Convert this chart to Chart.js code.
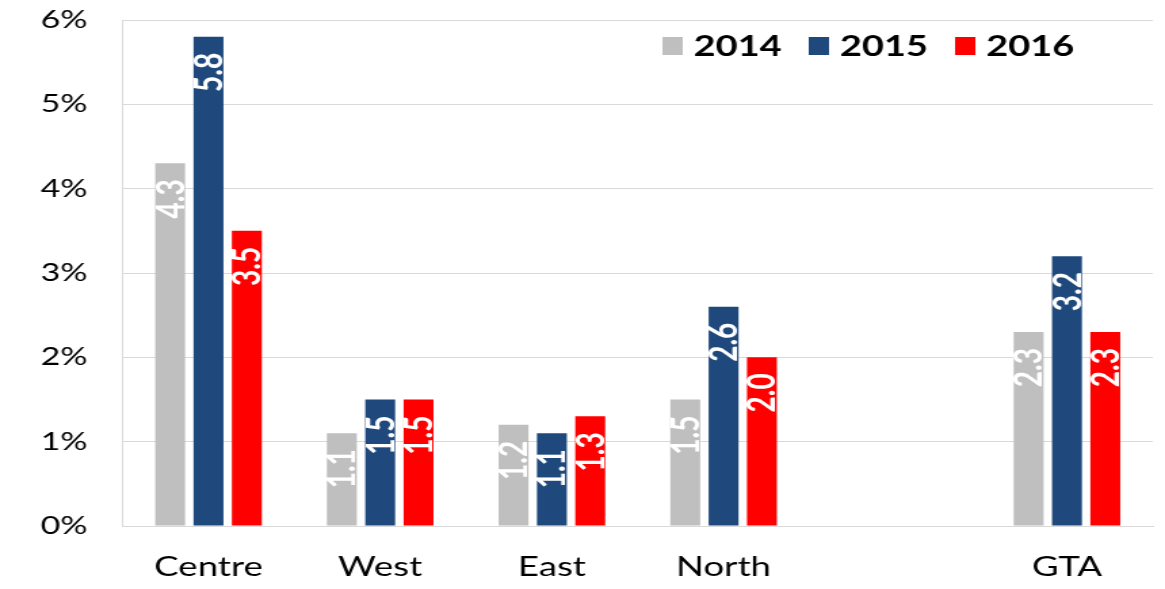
<!DOCTYPE html>
<html>
<head>
<meta charset="utf-8">
<script src="https://cdn.jsdelivr.net/npm/chart.js@4"></script>
<style>
  body { margin: 0; background: #fff; }
</style>
</head>
<body>
<!-- drawn at 860 wide, then widened by css -->
<canvas id="myChart" width="860" height="589" style="width:1165px;height:589px;display:block"></canvas>
<script>
var regions = ['Centre', 'West', 'East', 'North', '', 'GTA']
var years = ['2014', '2015', '2016']
var values2014 = [4.3, 1.1, 1.2, 1.5, null, 2.3]
var values2015 = [5.8, 1.5, 1.1, 2.6, null, 3.2]
var values2016 = [3.5, 1.5, 1.3, 2.0, null, 2.3]
var yTicks = [0, 1, 2, 3, 4, 5, 6]
var colors = ['#bfbfbf', '#1f497d', '#ff0000']

var fontName = 'Lato'

// white value text, turned on its side, near the top of each bar
var barValues = {
  id: 'barValues',
  afterDatasetsDraw: function (chart) {
    var ctx = chart.ctx
    ctx.save()
    ctx.fillStyle = '#fff'
    ctx.font = 'bold 28px ' + fontName
    ctx.textAlign = 'right'
    ctx.textBaseline = 'middle'
    chart.data.datasets.forEach(function (ds, i) {
      chart.getDatasetMeta(i).data.forEach(function (bar, j) {
        var v = ds.data[j]
        if (v == null) return
        ctx.save()
        ctx.translate(bar.x, bar.y)
        ctx.rotate(-Math.PI / 2)
        ctx.fillText(v.toFixed(1), -16, 1)
        ctx.restore()
      })
    })
    ctx.restore()
  }
}

// legend sits inside the plot, top right
var cornerLegend = {
  id: 'cornerLegend',
  afterDraw: function (chart) {
    var ctx = chart.ctx
    var area = chart.chartArea
    ctx.save()
    ctx.font = 'bold 28px ' + fontName
    ctx.textBaseline = 'middle'
    var x = area.right - 362
    var y = area.top + 26
    chart.data.datasets.forEach(function (ds) {
      ctx.fillStyle = ds.backgroundColor
      ctx.fillRect(x, y - 9, 15, 18)
      ctx.fillStyle = '#000'
      ctx.fillText(ds.label, x + 23, y + 1)
      x += 108
    })
    ctx.restore()
  }
}

var ctx = document.getElementById('myChart').getContext('2d')

var chart = new Chart(ctx, {
  type: 'bar',
  data: {
    labels: regions,
    datasets: [
      { label: years[0], data: values2014, backgroundColor: colors[0] },
      { label: years[1], data: values2015, backgroundColor: colors[1] },
      { label: years[2], data: values2016, backgroundColor: colors[2] }
    ]
  },
  options: {
    responsive: false,
    animation: false,
    devicePixelRatio: 1,
    categoryPercentage: 0.67,
    barPercentage: 0.78,
    layout: { padding: { top: 20, right: 9, left: 4, bottom: 5 } },
    plugins: {
      legend: { display: false },
      tooltip: { enabled: false }
    },
    scales: {
      x: {
        afterFit: function (axis) {
          axis.height = 58
        },
        grid: { display: false, drawTicks: false },
        border: { color: '#d9d9d9', width: 1 },
        ticks: { color: '#000', font: { family: fontName, size: 27 }, padding: 25 }
      },
      y: {
        min: 0,
        max: 6,
        afterBuildTicks: function (axis) {
          axis.ticks = yTicks.map(function (v) { return { value: v } })
        },
        // tick padding would otherwise push the plot in from top and bottom
        afterFit: function (axis) {
          axis.paddingTop = 0
          axis.paddingBottom = 0
        },
        grid: { color: '#d9d9d9', drawTicks: false },
        border: { color: '#d9d9d9', width: 1 },
        ticks: {
          color: '#000',
          font: { family: fontName, size: 25 },
          padding: 26,
          callback: function (v) { return v + '%' }
        }
      }
    }
  },
  plugins: [barValues, cornerLegend]
})
</script>
</body>
</html>
